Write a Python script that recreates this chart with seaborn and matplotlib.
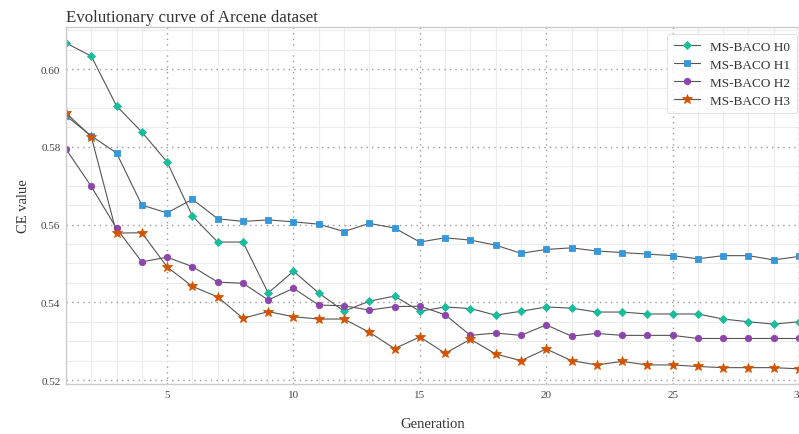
import numpy as np
import pandas as pd
import matplotlib
matplotlib.use("Agg")
import matplotlib.pyplot as plt
from matplotlib.ticker import MultipleLocator, FormatStrFormatter
import seaborn as sns

generations = list(range(1, 31))

h0 = [0.6067, 0.6033, 0.5905, 0.5838, 0.5761, 0.5622, 0.5555, 0.5555, 0.5424, 0.5480,
      0.5424, 0.5377, 0.5403, 0.5416, 0.5377, 0.5388, 0.5384, 0.5367, 0.5377, 0.5388,
      0.5385, 0.5375, 0.5375, 0.5370, 0.5370, 0.5370, 0.5357, 0.5350, 0.5344, 0.5350]
h1 = [0.5880, 0.5828, 0.5784, 0.5650, 0.5630, 0.5665, 0.5615, 0.5608, 0.5612, 0.5607,
      0.5601, 0.5582, 0.5603, 0.5591, 0.5555, 0.5566, 0.5560, 0.5547, 0.5526, 0.5536,
      0.5540, 0.5532, 0.5528, 0.5524, 0.5520, 0.5512, 0.5520, 0.5520, 0.5509, 0.5518]
h2 = [0.5794, 0.5698, 0.5590, 0.5504, 0.5516, 0.5492, 0.5452, 0.5449, 0.5406, 0.5436,
      0.5393, 0.5391, 0.5380, 0.5389, 0.5390, 0.5368, 0.5315, 0.5321, 0.5315, 0.5342,
      0.5313, 0.5320, 0.5315, 0.5315, 0.5315, 0.5307, 0.5307, 0.5307, 0.5307, 0.5307]
h3 = [0.5887, 0.5826, 0.5578, 0.5579, 0.5491, 0.5441, 0.5414, 0.5359, 0.5376, 0.5363,
      0.5357, 0.5357, 0.5323, 0.5281, 0.5311, 0.5269, 0.5305, 0.5267, 0.5250, 0.5280,
      0.5250, 0.5239, 0.5248, 0.5239, 0.5239, 0.5235, 0.5232, 0.5232, 0.5232, 0.5229]

series_names = ["MS-BACO H0", "MS-BACO H1", "MS-BACO H2", "MS-BACO H3"]
series_values = [h0, h1, h2, h3]
series_colors = ["#1abc9c", "#3498db", "#8e44ad", "#d35400"]
series_markers = ["D", "s", "o", "*"]
series_sizes = [4.3, 4.3, 4.6, 7.0]

sns.set_theme(style="white")
plt.rcParams["font.family"] = ["Liberation Serif", "DejaVu Serif"]

fig = plt.figure(figsize=(7.99, 4.35), dpi=100)
ax = fig.add_axes([0.0826, 0.115, 0.9174, 0.8206])

for name, vals, col, mk, ms in zip(series_names, series_values, series_colors,
                                   series_markers, series_sizes):
    df = pd.DataFrame({"Generation": generations, "CE": vals})
    sns.lineplot(data=df, x="Generation", y="CE", ax=ax, label=name,
                 color="#555555", linewidth=0.8, marker=mk, markersize=ms,
                 markerfacecolor=col, markeredgecolor=col, markeredgewidth=0.6,
                 alpha=1.0)

ax.set_xlim(1, 30)
ax.set_ylim(0.519, 0.6108)
ax.xaxis.set_major_locator(MultipleLocator(5))
ax.xaxis.set_minor_locator(MultipleLocator(1))
ax.yaxis.set_major_locator(MultipleLocator(0.02))
ax.yaxis.set_minor_locator(MultipleLocator(0.005))
ax.yaxis.set_major_formatter(FormatStrFormatter("%.2f"))

ax.grid(which="minor", color="#ececec", linewidth=0.8, linestyle="-")
ax.grid(which="major", color="#999999", linewidth=1.0, linestyle=(0, (1, 3)))
ax.set_axisbelow(True)

ax.tick_params(axis="both", which="both", length=0, labelsize=8, labelcolor="#444444", pad=4)
for s in ax.spines.values():
    s.set_color("#cccccc")
    s.set_linewidth(1.0)

ax.set_xlabel("Generation", fontsize=10.5, color="#333333", labelpad=13)
ax.set_ylabel("CE value", fontsize=10.5, color="#333333", labelpad=8)
ax.set_title("Evolutionary curve of Arcene dataset", loc="left", fontsize=12.2,
             color="#333333", pad=4)

leg = ax.legend(loc="upper right", fontsize=9.5, frameon=True, borderpad=0.5,
                labelspacing=0.43, handlelength=2.0, handletextpad=0.75,
                borderaxespad=0.0, bbox_to_anchor=(0.997, 0.980))
leg.get_frame().set_edgecolor("#dddddd")
leg.get_frame().set_linewidth(0.8)
for t in leg.get_texts():
    t.set_color("#333333")

fig.savefig("out.png", dpi=100)
